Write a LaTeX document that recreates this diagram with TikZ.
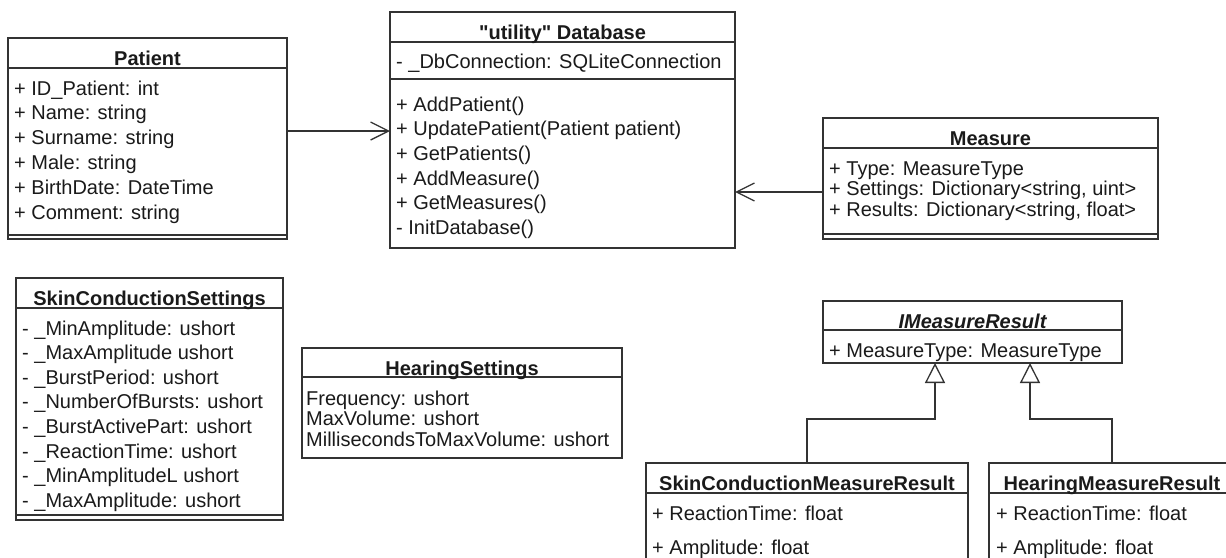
\documentclass[tikz,border=0pt]{standalone}
\usepackage{fontspec}
\setmainfont{Liberation Sans}
\usetikzlibrary{arrows.meta}
\definecolor{linec}{HTML}{333333}
\definecolor{txtc}{HTML}{1A1A1A}
\begin{document}
\begin{tikzpicture}[x=1pt, y=-1pt,
  font=\fontsize{20pt}{24pt}\selectfont,
  cls/.style={rectangle, draw=linec, line width=1.3pt, fill=white, inner sep=0pt, outer sep=0pt},
  sepline/.style={draw=linec, line width=1.3pt},
  row/.style={anchor=base west, inner sep=0pt, text=txtc},
  ttl/.style={anchor=base, inner sep=0pt, text=txtc, font=\fontsize{20pt}{24pt}\selectfont\bfseries},
  assoc/.style={draw=linec, line width=1.3pt, -{Straight Barb[length=18pt,width=18pt]}},
  inherit/.style={draw=linec, line width=1.3pt, -{Triangle[open,length=20pt,width=20pt]}},
]
\useasboundingbox (0,0) rectangle (1226,557);
\fill[white] (0,0) rectangle (1226,557);
\clip (0,0) rectangle (1226,557);

% ---------- Patient ----------
\node[cls, minimum width=279pt, minimum height=201pt] (patient) at (147.5,138.5) {};
\draw[sepline] ([yshift=-30pt]patient.north west) -- ([yshift=-30pt]patient.north east);
\draw[sepline] ([yshift=4pt]patient.south west) -- ([yshift=4pt]patient.south east);
\node[ttl] (patient-title) at (147.5,65) {Patient};
\foreach \t [count=\i from 0] in {+ ID\_Patient: int, + Name: string, + Surname: string,
    + Male: string, + BirthDate: DateTime, + Comment: string}
  \node[row] (patient-\i) at (14,95+24.8*\i) {\t};

% ---------- Database ----------
\node[cls, minimum width=345pt, minimum height=236pt] (db) at (562.5,130) {};
\draw[sepline] ([yshift=-30pt]db.north west) -- ([yshift=-30pt]db.north east);
\draw[sepline] ([yshift=-67pt]db.north west) -- ([yshift=-67pt]db.north east);
\node[ttl] (db-title) at (562.5,39) {\textquotedbl utility\textquotedbl{} Database};
\node[row] (db-attr) at (396,68) {- \_DbConnection: SQLiteConnection};
\foreach \t [count=\i from 0] in {+ AddPatient(), + UpdatePatient(Patient patient),
    + GetPatients(), + AddMeasure(), + GetMeasures(), - InitDatabase()}
  \node[row] (db-\i) at (396,111+24.7*\i) {\t};

% ---------- Measure ----------
\node[cls, minimum width=335pt, minimum height=121pt] (measure) at (990.5,178.5) {};
\draw[sepline] ([yshift=-30pt]measure.north west) -- ([yshift=-30pt]measure.north east);
\draw[sepline] ([yshift=5pt]measure.south west) -- ([yshift=5pt]measure.south east);
\node[ttl] (measure-title) at (990.5,145) {Measure};
\foreach \t [count=\i from 0] in {+ Type: MeasureType, {+ Settings: Dictionary<string, uint>},
    {+ Results: Dictionary<string, float>}}
  \node[row] (measure-\i) at (829,175+20.5*\i) {\t};

% ---------- SkinConductionSettings ----------
\node[cls, minimum width=267pt, minimum height=242pt] (scs) at (149.5,399) {};
\draw[sepline] ([yshift=-30pt]scs.north west) -- ([yshift=-30pt]scs.north east);
\draw[sepline] ([yshift=5pt]scs.south west) -- ([yshift=5pt]scs.south east);
\node[ttl] (scs-title) at (149.5,305) {SkinConductionSettings};
\foreach \t [count=\i from 0] in {- \_MinAmplitude: ushort, - \_MaxAmplitude ushort,
    - \_BurstPeriod: ushort, - \_NumberOfBursts: ushort, - \_BurstActivePart: ushort,
    - \_ReactionTime: ushort, - \_MinAmplitudeL ushort, - \_MaxAmplitude: ushort}
  \node[row] (scs-\i) at (22,335+24.6*\i) {\t};

% ---------- HearingSettings ----------
\node[cls, minimum width=320pt, minimum height=110pt] (hs) at (462,403) {};
\draw[sepline] ([yshift=-29pt]hs.north west) -- ([yshift=-29pt]hs.north east);
\node[ttl] (hs-title) at (462,375) {HearingSettings};
\foreach \t [count=\i from 0] in {Frequency: ushort, MaxVolume: ushort,
    MillisecondsToMaxVolume: ushort}
  \node[row] (hs-\i) at (306,405+20.5*\i) {\t};

% ---------- IMeasureResult ----------
\node[cls, minimum width=299pt, minimum height=62pt] (imr) at (972.5,332) {};
\draw[sepline] ([yshift=-29pt]imr.north west) -- ([yshift=-29pt]imr.north east);
\node[ttl] (imr-title) at (972.5,328) {\itshape IMeasureResult};
\node[row] (imr-0) at (829,357) {+ MeasureType: MeasureType};

% ---------- SkinConductionMeasureResult ----------
\node[cls, minimum width=322pt, minimum height=117pt] (scmr) at (807,521.5) {};
\draw[sepline] ([yshift=-30pt]scmr.north west) -- ([yshift=-30pt]scmr.north east);
\node[ttl] (scmr-title) at (807,490) {SkinConductionMeasureResult};
\node[row] (scmr-0) at (652,520) {+ ReactionTime: float};
\node[row] (scmr-1) at (652,554) {+ Amplitude: float};

% ---------- HearingMeasureResult ----------
\node[cls, minimum width=246pt, minimum height=117pt] (hmr) at (1112,521.5) {};
\draw[sepline] ([yshift=-30pt]hmr.north west) -- ([yshift=-30pt]hmr.north east);
\node[ttl] (hmr-title) at (1112,490) {HearingMeasureResult};
\node[row] (hmr-0) at (996,520) {+ ReactionTime: float};
\node[row] (hmr-1) at (996,554) {+ Amplitude: float};

% ---------- associations ----------
\coordinate (pat-out) at ([yshift=7.5pt]patient.east);
\coordinate (meas-out) at ([yshift=-13.5pt]measure.west);
\draw[assoc] (pat-out) -- (pat-out -| db.west);
\draw[assoc] (meas-out) -- (meas-out -| db.east);

% ---------- generalisations ----------
\draw[inherit] (scmr.north) -- ++(0,-44) -| ([xshift=-37.5pt]imr.south);
\draw[inherit] (hmr.north) -- ++(0,-44) -| ([xshift=57.5pt]imr.south);
\end{tikzpicture}
\end{document}
